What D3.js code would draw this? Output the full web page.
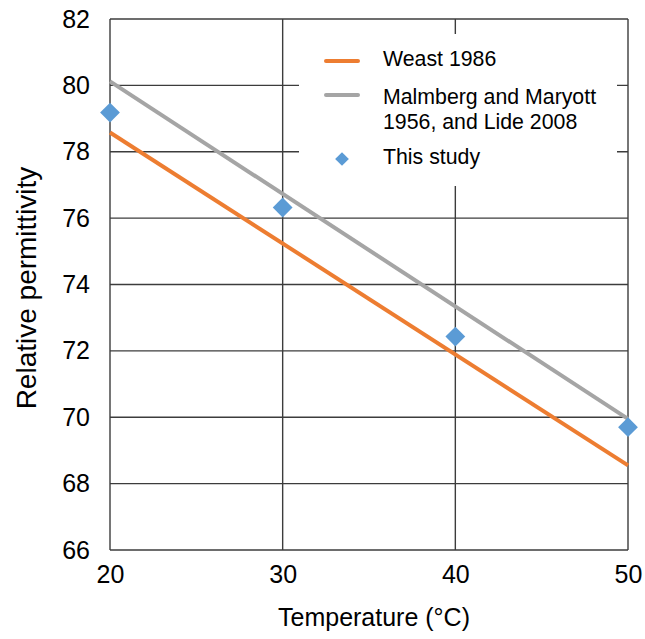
<!DOCTYPE html>
<html>
<head>
<meta charset="utf-8">
<script src="https://cdn.jsdelivr.net/npm/d3@7"></script>
<style>
  html, body { margin: 0; padding: 0; background: #fff; }
  svg { display: block; font-family: "Liberation Sans", Arial, sans-serif; }
</style>
</head>
<body>
<svg id="chart" width="645" height="639"></svg>
<script>
// ---- data ----
const temps = [20, 30, 40, 50];
const weastTemps = [20, 50];
const weastValues = [78.58, 68.55];
const malmbergTemps = [20, 50];
const malmbergValues = [80.12, 69.95];
const studyValues = [79.18, 76.32, 72.43, 69.7];
const xTicks = [20, 30, 40, 50];
const yTicks = [66, 68, 70, 72, 74, 76, 78, 80, 82];
const seriesNames = ["Weast 1986", "Malmberg and Maryott|1956, and Lide 2008", "This study"];
const xTitle = "Temperature (°C)";
const yTitle = "Relative permittivity";

const colors = { weast: "#ED7D31", malmberg: "#A5A5A5", study: "#5B9BD5", grid: "#3c3c3c" };

const svg = d3.select("#chart");
const m = { left: 110, right: 628, top: 19, bottom: 550 };

const x = d3.scaleLinear().domain([20, 50]).range([m.left, m.right]);
const y = d3.scaleLinear().domain([66, 82]).range([m.bottom, m.top]);

// gridlines
const grid = svg.append("g");
grid.selectAll("line.h").data(yTicks).join("line")
  .attr("x1", m.left).attr("x2", m.right)
  .attr("y1", d => y(d)).attr("y2", d => y(d))
  .attr("stroke", colors.grid).attr("stroke-width", 1.4);
grid.selectAll("line.v").data(xTicks).join("line")
  .attr("y1", m.top).attr("y2", m.bottom)
  .attr("x1", d => x(d)).attr("x2", d => x(d))
  .attr("stroke", colors.grid).attr("stroke-width", 1.4);

// axes (labels only)
const yAxis = d3.axisLeft(y).tickValues(yTicks).tickSize(0).tickPadding(20);
const gy = svg.append("g").attr("transform", `translate(${m.left},0)`).call(yAxis);
gy.select(".domain").remove();
gy.selectAll("text").attr("font-size", 25).attr("fill", "#000")
  .attr("font-family", "Liberation Sans, Arial, sans-serif");

const xAxis = d3.axisBottom(x).tickValues(xTicks).tickSize(0).tickPadding(15);
const gx = svg.append("g").attr("transform", `translate(0,${m.bottom})`).call(xAxis);
gx.select(".domain").remove();
gx.selectAll("text").attr("font-size", 25).attr("fill", "#000")
  .attr("font-family", "Liberation Sans, Arial, sans-serif");

// axis titles
svg.append("text").attr("x", 374).attr("y", 626).attr("text-anchor", "middle")
  .attr("font-size", 25).attr("fill", "#000").text(xTitle);
svg.append("text").attr("transform", `translate(36,${288}) rotate(-90)`)
  .attr("text-anchor", "middle").attr("font-size", 28).attr("fill", "#000").text(yTitle);

// legend background
svg.append("rect").attr("x", 299).attr("y", 34).attr("width", 318).attr("height", 152).attr("fill", "#fff");

// lines
const line = d3.line().x(d => x(d[0])).y(d => y(d[1]));
svg.append("path").datum(weastTemps.map((t, i) => [t, weastValues[i]]))
  .attr("d", line).attr("fill", "none").attr("stroke", colors.weast).attr("stroke-width", 4);
svg.append("path").datum(malmbergTemps.map((t, i) => [t, malmbergValues[i]]))
  .attr("d", line).attr("fill", "none").attr("stroke", colors.malmberg).attr("stroke-width", 4);

// study points (diamonds)
const diamond = d3.symbol().type(d3.symbolDiamond2).size(250);
svg.selectAll("path.pt").data(temps.map((t, i) => [t, studyValues[i]])).join("path")
  .attr("class", "pt")
  .attr("transform", d => `translate(${x(d[0])},${y(d[1])})`)
  .attr("d", diamond).attr("fill", colors.study);

// legend
const lg = svg.append("g");
lg.append("line").attr("x1", 326).attr("x2", 358).attr("y1", 61).attr("y2", 61)
  .attr("stroke", colors.weast).attr("stroke-width", 4).attr("stroke-linecap", "round");
lg.append("line").attr("x1", 326).attr("x2", 358).attr("y1", 95).attr("y2", 95)
  .attr("stroke", colors.malmberg).attr("stroke-width", 4).attr("stroke-linecap", "round");
lg.append("path").attr("transform", "translate(342,159)")
  .attr("d", d3.symbol().type(d3.symbolDiamond2).size(120)).attr("fill", colors.study);

const lt = [
  { t: seriesNames[0], y: 66 },
  { t: seriesNames[1].split("|")[0], y: 104 },
  { t: seriesNames[1].split("|")[1], y: 129 },
  { t: seriesNames[2], y: 164 }
];
lg.selectAll("text").data(lt).join("text")
  .attr("x", 383).attr("y", d => d.y).attr("font-size", 21.3).attr("fill", "#000")
  .text(d => d.t);
</script>
</body>
</html>
